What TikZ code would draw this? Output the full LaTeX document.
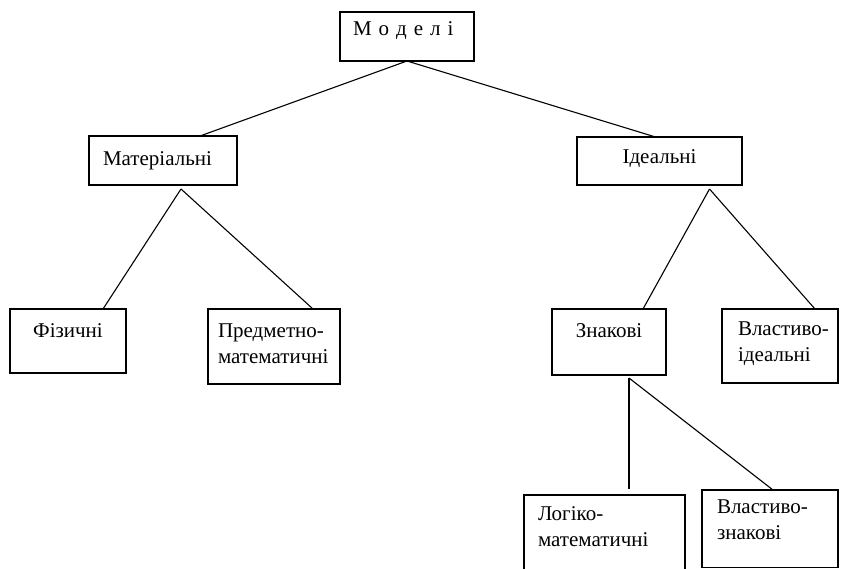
\documentclass[tikz,border=0pt]{standalone}
\usepackage{fontspec}
\setmainfont{Liberation Serif}
\usetikzlibrary{calc}

\begin{document}
\begin{tikzpicture}[
      x=1pt, y=-1pt,
      box/.style={draw=black, line width=1.1pt, anchor=north west, outer sep=0pt,
        inner ysep=0pt, font=\fontsize{21}{26}\selectfont},
      lbox/.style={box, align=left},
      cbox/.style={box, align=center, inner xsep=0pt},
      link/.style={draw=black, line width=1.1pt}
    ]
    \useasboundingbox (0,0) rectangle (846,568);
    \clip (0,0) rectangle (846,568);

    % top level
    \node[lbox, inner xsep=13pt, text width=108pt, text height=23pt, text depth=26pt] (model) at (340,12) {М о д е л і};

    \node[lbox, inner xsep=14pt, text width=120pt, text height=29pt, text depth=20pt] (mat) at (89,136) {Матеріальні};
    \node[cbox, text width=165pt, text height=26pt, text depth=22pt] (ideal) at (577,137) {Ідеальні};

    \node[cbox, text width=116pt, text height=28pt, text depth=36pt] (phys) at (10,309) {Фізичні};
    \node[lbox, inner xsep=10pt, text width=112pt, text height=28pt, text depth=47pt] (subj) at (208,309) {\mbox{Предметно-}\\математичні};
    \node[cbox, text width=114pt, text height=28pt, text depth=38pt] (sign) at (552,309) {Знакові};
    \node[lbox, inner xsep=16pt, text width=84pt, text height=26pt, text depth=48pt] (propid) at (722,309) {\mbox{Властиво-}\\ідеальні};

    \node[lbox, inner xsep=14pt, text width=133pt, text height=25pt, text depth=55pt] (logic) at (524,495) {\mbox{Логіко-}\\математичні};
    \node[lbox, inner xsep=15pt, text width=106pt, text height=23pt, text depth=54.5pt] (propsign) at (702,490) {\mbox{Властиво-}\\знакові};

    \coordinate (matfork) at ($(mat.south)+(18,4)$);
    \coordinate (idealfork) at ($(ideal.south)+(50,4)$);
    \coordinate (signfork) at ($(sign.south)+(20,3)$);

    \draw[link] (model.south) -- ($(mat.north)+(37,0)$);
    \draw[link] (model.south) -- ($(ideal.north)+(-4,0)$);

    \draw[link] (matfork) -- ($(phys.north)+(35,0)$);
    \draw[link] (matfork) -- ($(subj.north)+(39,0)$);

    \draw[link] (idealfork) -- ($(sign.north)+(34,0)$);
    \draw[link] (idealfork) -- ($(propid.north)+(35,0)$);

    \draw[link] (signfork) -- ($(logic.north)+(24.5,-6)$);
    \draw[link] (signfork) -- ($(propsign.north)+(3,0)$);
  \end{tikzpicture}
\end{document}
